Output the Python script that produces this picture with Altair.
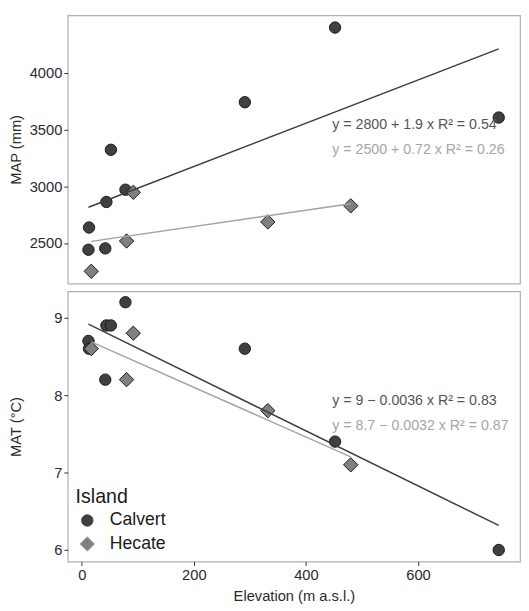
import altair as alt
import pandas as pd

# ---- data ----
cal_elev = [12, 13, 44, 42, 52, 78, 291, 452, 744]
cal_map = [2440, 2636, 2861, 2452, 3321, 2969, 3740, 4398, 3605]
cal_mat = [8.7, 8.6, 8.9, 8.2, 8.9, 9.2, 8.6, 7.4, 6.0]

hec_elev = [17, 80, 92, 332, 480]
hec_map = [2250, 2517, 2946, 2685, 2827]
hec_mat = [8.6, 8.2, 8.8, 7.8, 7.1]

islands = ["Calvert", "Hecate"]
eq_map = ["y = 2800 + 1.9 x  R² = 0.54", "y = 2500 + 0.72 x  R² = 0.26"]
eq_mat = ["y = 9 − 0.0036 x  R² = 0.83", "y = 8.7 − 0.0032 x  R² = 0.87"]

x_ticks = [0, 200, 400, 600]
map_ticks = [2500, 3000, 3500, 4000]
mat_ticks = [6, 7, 8, 9]

df = pd.DataFrame({
    "island": ["Calvert"] * len(cal_elev) + ["Hecate"] * len(hec_elev),
    "elev": cal_elev + hec_elev,
    "map": cal_map + hec_map,
    "mat": cal_mat + hec_mat,
})

FONT = "Liberation Sans"
fill_scale = alt.Scale(domain=islands, range=["#404040", "#808080"])
shape_scale = alt.Scale(domain=islands, range=["circle", "diamond"])
size_scale = alt.Scale(domain=islands, range=[135, 215])
line_scale = alt.Scale(domain=islands, range=["#3d3d3d", "#a3a3a3"])
text_colors = ["#555555", "#a6a6a6"]

x_scale = alt.Scale(domain=[-25, 782], nice=False, zero=False)


def yaxis(title, values):
    return alt.Axis(
        title=title, values=values, format="d", grid=False, domain=False,
        tickColor="#333333", tickSize=4, labelPadding=2,
        labelFontSize=15, titleFontSize=15, labelColor="#2b2b2b",
        titleColor="#2b2b2b", titleFontWeight="normal",
        labelFont=FONT, titleFont=FONT, minExtent=39, maxExtent=39,
        titlePadding=6,
    )


def panel(field, ytitle, ydomain, yticks, equations, eq_pos, show_x, legend):
    base = alt.Chart(df)
    if show_x:
        xaxis = alt.Axis(
            title="Elevation (m a.s.l.)", values=x_ticks, format="d", grid=False,
            domain=False, tickColor="#333333", tickSize=4, labelPadding=2,
            labelFontSize=15, titleFontSize=15, labelColor="#2b2b2b",
            titleColor="#2b2b2b", titleFontWeight="normal",
            labelFont=FONT, titleFont=FONT, titlePadding=7,
        )
    else:
        xaxis = None
    x = alt.X("elev:Q", scale=x_scale, axis=xaxis)
    y = alt.Y(f"{field}:Q", scale=alt.Scale(domain=ydomain, nice=False, zero=False),
              axis=yaxis(ytitle, yticks))
    if legend:
        leg = alt.Legend(
            title="Island", orient="none", legendX=8, legendY=200,
            titleFontSize=20, titleFontWeight="normal", titleFont=FONT,
            titleColor="#1a1a1a", labelFontSize=18, labelFont=FONT,
            labelColor="#1a1a1a", symbolStrokeColor="#1a1a1a",
            symbolStrokeWidth=1, symbolOffset=3, labelOffset=14,
            rowPadding=5, titlePadding=5, padding=0,
        )
    else:
        leg = None
    pts = base.mark_point(filled=True, stroke="#1a1a1a", strokeWidth=1, opacity=1).encode(
        x=x, y=y,
        fill=alt.Fill("island:N", scale=fill_scale, legend=leg, title="Island"),
        shape=alt.Shape("island:N", scale=shape_scale, legend=leg, title="Island"),
        size=alt.Size("island:N", scale=size_scale, legend=leg, title="Island"),
    )
    lines = base.transform_regression("elev", field, groupby=["island"]).mark_line(
        strokeWidth=1.5
    ).encode(
        x=alt.X("elev:Q", scale=x_scale, axis=xaxis),
        y=alt.Y(f"{field}:Q"),
        stroke=alt.Stroke("island:N", scale=line_scale, legend=None),
    )
    layers = [pts, lines]
    for txt, col, (px, py) in zip(equations, text_colors, eq_pos):
        layers.append(
            alt.Chart(pd.DataFrame({"label": [txt]})).mark_text(
                align="left", baseline="middle", fontSize=14.5, font=FONT, color=col
            ).encode(x=alt.datum(px), y=alt.datum(py), text="label:N")
        )
    return alt.layer(*layers)


top = panel("map", "MAP (mm)", [2142, 4506], map_ticks, eq_map,
            [(447, 3537), (447, 3319)], False, False).properties(width=462, height=274)
bottom = panel("mat", "MAT (°C)", [5.85, 9.34], mat_ticks, eq_mat,
               [(447, 7.92), (447, 7.60)], True, True).properties(width=462, height=276)

chart = alt.vconcat(top, bottom, spacing=6, padding=0).resolve_scale(
    fill="independent", shape="independent", size="independent", stroke="independent"
).resolve_legend(fill="independent", shape="independent", size="independent").configure_view(
    stroke="#b0b0b0", strokeWidth=1.2
)

chart.save("out.html", embed_options={"renderer": "svg", "actions": False})
